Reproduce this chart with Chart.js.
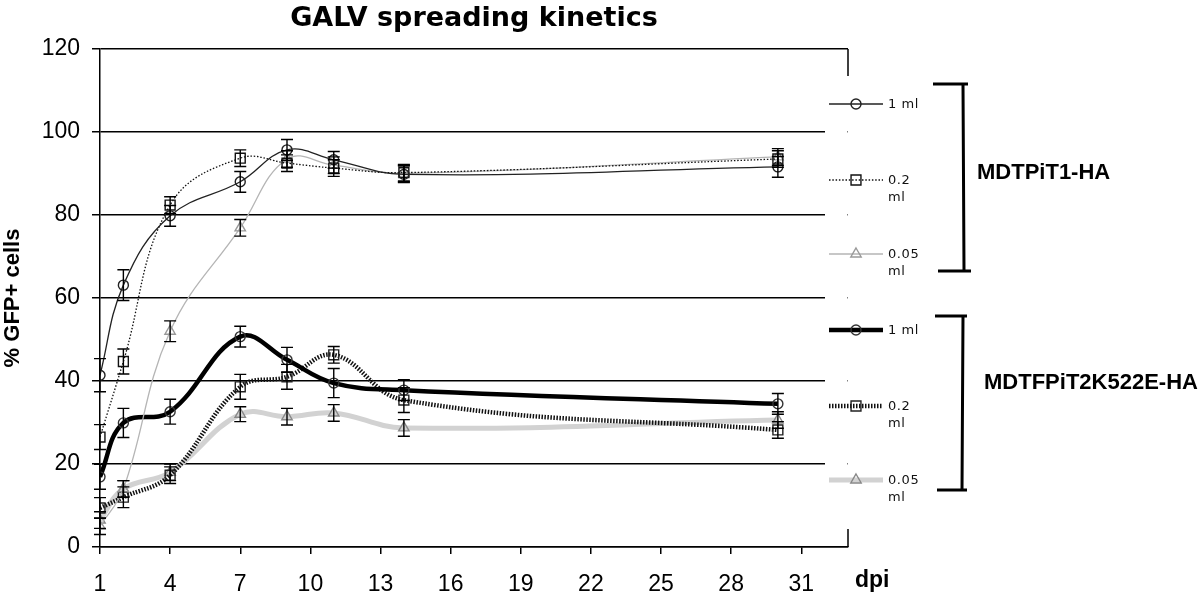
<!DOCTYPE html>
<html>
<head>
<meta charset="utf-8">
<script src="https://cdn.jsdelivr.net/npm/chart.js@4/dist/chart.umd.min.js"></script>
<style>
  html, body { margin: 0; padding: 0; background: #fff; }
  #wrap { position: relative; width: 1200px; height: 595px; overflow: hidden; }
  #c { position: absolute; left: 0; top: 0; }
  .lbl { position: absolute; font-family: "DejaVu Sans", sans-serif; font-size: 13px; letter-spacing: 0.6px; color: #111; line-height: 17px; white-space: nowrap; }
  .grp { position: absolute; font-family: "Liberation Sans", Arial, sans-serif; font-weight: bold; font-size: 22px; color: #000; white-space: nowrap; }
  #title { position: absolute; left: 100px; width: 748px; top: 1px; text-align: center; font-family: "DejaVu Sans", Verdana, sans-serif; font-weight: bold; font-size: 27px; color: #000; }
  #dpi { position: absolute; left: 855px; top: 566px; font-family: "Liberation Sans", Arial, sans-serif; font-weight: bold; font-size: 23px; color: #000; }
</style>
</head>
<body>
<div id="wrap">
  <canvas id="c" width="1200" height="595"></canvas>
  <div id="title">GALV spreading kinetics</div>
  <div id="dpi">dpi</div>
  <div class="lbl" style="left:888px; top:95px;">1 ml</div>
  <div class="lbl" style="left:888px; top:171px;">0.2<br>ml</div>
  <div class="lbl" style="left:888px; top:245px;">0.05<br>ml</div>
  <div class="lbl" style="left:888px; top:321px;">1 ml</div>
  <div class="lbl" style="left:888px; top:397px;">0.2<br>ml</div>
  <div class="lbl" style="left:888px; top:471px;">0.05<br>ml</div>
  <div class="grp" style="left:977px; top:159px;">MDTPiT1-HA</div>
  <div class="grp" style="left:984px; top:369px;">MDTFPiT2K522E-HA</div>
</div>
<script>
// ---- data ----
const days = [1, 2, 4, 7, 9, 11, 14, 30];
const xTickValues = [1, 4, 7, 10, 13, 16, 19, 22, 25, 28, 31];
const seriesLabels = ["MDTPiT1-HA 1 ml", "MDTPiT1-HA 0.2 ml", "MDTPiT1-HA 0.05 ml",
                      "MDTFPiT2K522E-HA 1 ml", "MDTFPiT2K522E-HA 0.2 ml", "MDTFPiT2K522E-HA 0.05 ml"];

const t1_1ml      = [41.4, 63.1, 79.8, 88.0, 95.7, 93.3, 89.8, 91.6];
const t1_1ml_err  = [4, 3.7, 2.5, 2.5, 2.5, 2, 2, 2.5];
const t1_02ml     = [26.5, 44.7, 82.4, 93.7, 92.5, 91.3, 90.2, 93.5];
const t1_02ml_err = [3, 3, 2, 2, 2, 2, 2, 2];
const t1_005ml    = [5, 14, 52, 76.9, 93.5, 92, 90, 94];
const t1_005ml_err= [2, 2, 2.5, 2, 2, 2, 2, 2];

const t2_1ml      = [16.9, 29.9, 32.6, 50.7, 45.1, 39.5, 37.8, 34.5];
const t2_1ml_err  = [3, 3.5, 3, 2.5, 3, 3.5, 2.5, 2.5];
const t2_02ml     = [9.4, 12, 17.3, 38.6, 41, 46.3, 35.4, 28.2];
const t2_02ml_err = [2.5, 2.5, 2, 3, 3, 2, 3, 2];
const t2_005ml    = [6.5, 14, 18, 32, 31.4, 32.3, 28.7, 30.6];
const t2_005ml_err= [2, 2, 2, 1.8, 2, 2, 2, 2];

const pts = vals => days.map((d, i) => ({ x: d, y: vals[i] }));

function mk(label, vals, errs, style) {
  return Object.assign({
    label, data: pts(vals), errors: errs,
    tension: 0.4, fill: false,
    pointBackgroundColor: 'rgba(255,255,255,0)',
    pointBorderWidth: 1.4,
    pointHoverRadius: 5
  }, style);
}

const datasets = [
  mk(seriesLabels[0], t1_1ml, t1_1ml_err, { borderColor: '#222', borderWidth: 1.3, pointStyle: 'circle', pointRadius: 5, pointBorderColor: '#222' }),
  mk(seriesLabels[1], t1_02ml, t1_02ml_err, { borderColor: '#111', borderWidth: 1.3, borderDash: [1.5, 1.8], pointStyle: 'rect', pointRadius: 7, pointBorderColor: '#111' }),
  mk(seriesLabels[2], t1_005ml, t1_005ml_err, { borderColor: '#b5b5b5', borderWidth: 1.3, pointStyle: 'triangle', pointRadius: 6, pointBorderColor: '#999' }),
  mk(seriesLabels[3], t2_1ml, t2_1ml_err, { borderColor: '#000', borderWidth: 4.5, pointStyle: 'circle', pointRadius: 5, pointBorderColor: '#333' }),
  mk(seriesLabels[4], t2_02ml, t2_02ml_err, { borderColor: '#111', borderWidth: 4.5, borderDash: [1.5, 1.5], borderCapStyle: 'butt', pointStyle: 'rect', pointRadius: 7, pointBorderColor: '#222' }),
  mk(seriesLabels[5], t2_005ml, t2_005ml_err, { borderColor: '#d2d2d2', borderWidth: 5, pointStyle: 'triangle', pointRadius: 6, pointBorderColor: '#888' })
];

const errorBars = {
  id: 'errorBars',
  afterDatasetsDraw(chart) {
    const { ctx, scales: { x, y } } = chart;
    ctx.save();
    ctx.strokeStyle = '#000';
    ctx.lineWidth = 1.4;
    chart.data.datasets.forEach(ds => {
      ds.data.forEach((p, i) => {
        const e = ds.errors[i];
        const px = x.getPixelForValue(p.x);
        const top = y.getPixelForValue(p.y + e);
        const bot = y.getPixelForValue(p.y - e);
        ctx.beginPath();
        ctx.moveTo(px, top); ctx.lineTo(px, bot);
        ctx.moveTo(px - 6, top); ctx.lineTo(px + 6, top);
        ctx.moveTo(px - 6, bot); ctx.lineTo(px + 6, bot);
        ctx.stroke();
      });
    });
    ctx.restore();
  }
};

const legendRows = [104, 180, 254, 330, 406, 480];

const sideLegend = {
  id: 'sideLegend',
  afterDraw(chart) {
    const { ctx, chartArea } = chart;
    const R = chartArea.right;
    ctx.save();
    ctx.fillStyle = '#fff';
    ctx.fillRect(R - 23, 76, 22.5, 453);
    ctx.strokeStyle = '#000';
    ctx.lineWidth = 1.5;
    ctx.beginPath();
    ctx.moveTo(R, chartArea.top); ctx.lineTo(R, 76);
    ctx.moveTo(R, 529); ctx.lineTo(R, chartArea.bottom);
    ctx.stroke();
    chart.data.datasets.forEach((ds, i) => {
      const yy = legendRows[i];
      ctx.save();
      ctx.strokeStyle = ds.borderColor;
      ctx.lineWidth = ds.borderWidth;
      ctx.setLineDash(ds.borderDash || []);
      ctx.lineCap = 'butt';
      ctx.beginPath();
      ctx.moveTo(829, yy); ctx.lineTo(883, yy);
      ctx.stroke();
      ctx.restore();
      ctx.save();
      ctx.strokeStyle = ds.pointBorderColor;
      ctx.fillStyle = 'rgba(255,255,255,0)';
      ctx.lineWidth = 1.4;
      Chart.helpers.drawPoint(ctx, { pointStyle: ds.pointStyle, radius: ds.pointRadius, rotation: 0, borderWidth: 1.4 }, 856, yy);
      ctx.restore();
    });
    ctx.lineWidth = 3;
    ctx.strokeStyle = '#000';
    ctx.beginPath();
    ctx.moveTo(933, 84); ctx.lineTo(968, 84);
    ctx.moveTo(963, 84); ctx.lineTo(964, 271);
    ctx.moveTo(938, 271); ctx.lineTo(971, 271);
    ctx.moveTo(935, 316); ctx.lineTo(967, 316);
    ctx.moveTo(963, 316); ctx.lineTo(962, 490);
    ctx.moveTo(937, 490); ctx.lineTo(967, 490);
    ctx.stroke();
    ctx.restore();
  }
};

new Chart(document.getElementById('c'), {
  type: 'line',
  data: { datasets },
  options: {
    responsive: false,
    animation: false,
    layout: { padding: { top: 49, right: 352, left: 0, bottom: 0 } },
    plugins: { legend: { display: false }, title: { display: false }, tooltip: { enabled: false } },
    scales: {
      x: {
        type: 'linear', min: 1, max: 33,
        afterBuildTicks: s => { s.ticks = xTickValues.map(v => ({ value: v })); },
        afterFit: s => { s.height = 48; },
        grid: { drawOnChartArea: false, drawTicks: true, tickLength: 7, color: '#000', lineWidth: 1.5 },
        border: { color: '#000', width: 1.5 },
        ticks: { color: '#000', font: { family: '"Liberation Sans", Arial, sans-serif', size: 23 }, padding: 17, maxRotation: 0, autoSkip: false }
      },
      y: {
        min: 0, max: 120,
        afterFit: s => { s.width = 100; },
        grid: { color: '#000', lineWidth: 1.5, tickLength: 8 },
        border: { color: '#000', width: 1.5 },
        ticks: { stepSize: 20, color: '#000', font: { family: '"Liberation Sans", Arial, sans-serif', size: 23 }, padding: 12 },
        title: { display: true, text: '% GFP+ cells', color: '#000', padding: 0, font: { family: '"Liberation Sans", Arial, sans-serif', size: 22, weight: 'bold' } }
      }
    }
  },
  plugins: [errorBars, sideLegend]
});
</script>
</body>
</html>
